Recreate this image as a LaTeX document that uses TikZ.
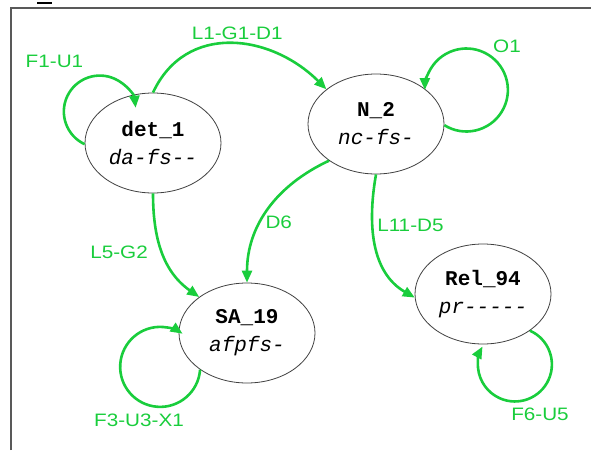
\documentclass[tikz,border=0pt]{standalone}
\usepackage{fontspec}
\setmonofont{Liberation Mono}
\newfontfamily\lblfont[FakeStretch=1.15]{Liberation Sans}
\usetikzlibrary{shapes.geometric,arrows.meta}
\definecolor{lgreen}{RGB}{25,205,60}
\begin{document}
\begin{tikzpicture}[x=1pt, y=1pt, >={Triangle[length=12pt,width=10pt]},
  phrase/.style={ellipse, draw=black!75, line width=0.8pt, fill=white, minimum width=136pt, minimum height=100pt, inner sep=0pt, align=center, font=\fontsize{21}{28}\selectfont\ttfamily},
  trans/.style={->, draw=lgreen, line width=2.6pt},
  lbl/.style={text=lgreen, font=\lblfont\fontsize{18}{20}\selectfont}]
  \useasboundingbox (0,0) rectangle (591,-450);
  % frame of the screenshot
  \draw[black!65, line width=1.5pt] (11,-450) -- (11,-8) -- (591,-8);
  \draw[line width=2pt] (37,-3) -- (52,-3);

  \node[phrase] (det1) at (153,-143) {{\bfseries det\_1}\\{\itshape da-fs--}};
  \node[phrase] (N2) at (376,-124) {{\bfseries N\_2}\\{\itshape nc-fs-}};
  \node[phrase] (SA19) at (247,-333) {{\bfseries SA\_19}\\{\itshape afpfs-}};
  \node[phrase] (Rel94) at (483,-294) {{\bfseries Rel\_94}\\{\itshape pr-----}};

  % transitions
  \draw[trans] (det1.90) to[out=65, in=135, looseness=1.15] node[lbl, above, pos=0.53] (lL1) {L1-G1-D1} (N2.145);
  \draw[trans] (det1.-90) to[out=-90, in=145] node[lbl, left=10pt, pos=0.5] (lL5) {L5-G2} (SA19.143);
  \draw[trans] (N2.218) to[out=205, in=90] node[lbl, right, pos=0.6] (lD6) {D6} (SA19.90);
  \draw[trans] (N2.-90) to[out=-100, in=150] node[lbl, right, pos=0.35] (lL11) {L11-D5} (Rel94.183);

  % loops
  \draw[trans] (det1.181) arc[start angle=245, end angle=6, radius=36];
  \draw[trans] (N2.-1) arc[start angle=238, end angle=540, radius=41.5];
  \draw[trans] (SA19.218) arc[start angle=-4, end angle=-304, radius=40];
  \draw[trans] (Rel94.-38) arc[start angle=66, end angle=-209, radius=37];
  \node[lbl] (lF1) at (54.5,-61.5) {F1-U1};
  \node[lbl] (lO1) at (507,-46.5) {O1};
  \node[lbl] (lF3) at (139,-420.5) {F3-U3-X1};
  \node[lbl] (lF6) at (540,-414) {F6-U5};
\end{tikzpicture}
\end{document}
